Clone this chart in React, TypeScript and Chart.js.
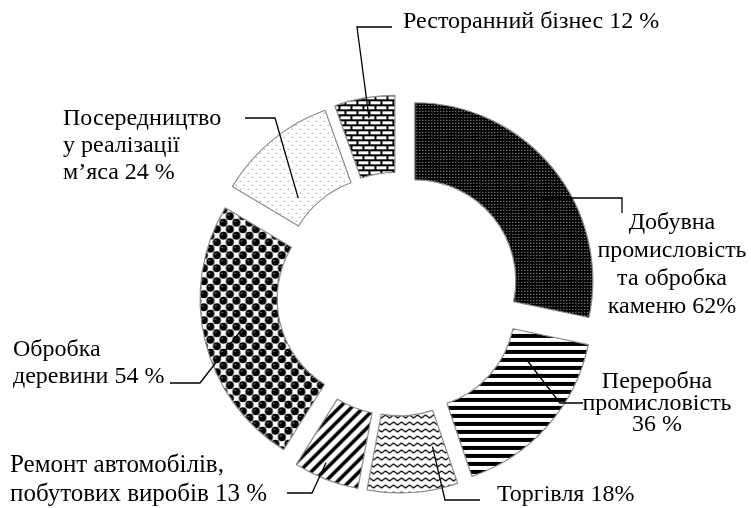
import React, { useEffect, useRef } from 'react';
import { Chart, registerables } from 'chart.js';

Chart.register(...registerables);

// ---- data ----
const categories = [
  'Добувна промисловість та обробка каменю',
  'Переробна промисловість',
  'Торгівля',
  'Ремонт автомобілів, побутових виробів',
  'Обробка деревини',
  'Посередництво у реалізації м’яса',
  'Ресторанний бізнес',
];
const values = [62, 36, 18, 13, 54, 24, 12];
const labelLines = [
  ['Добувна', 'промисловість', 'та обробка', 'каменю 62%'],
  ['Переробна', 'промисловість', '36 %'],
  ['Торгівля 18%'],
  ['Ремонт автомобілів,', 'побутових виробів 13 %'],
  ['Обробка', 'деревини 54 %'],
  ['Посередництво', 'у реалізації', 'м’яса 24 %'],
  ['Ресторанний бізнес 12 %'],
];

// ---- layout / style ----
const EXPLODE = 21;
const FONT_FAMILY = '"Liberation Serif", "Times New Roman", serif';
const labelLayout = [
  { x: 672, y: 223, align: 'center', lh: 28, size: 24 },
  { x: 657, y: 382, align: 'center', lh: 21.5, size: 24 },
  { x: 497, y: 495, align: 'left', lh: 28, size: 24 },
  { x: 10, y: 465, align: 'left', lh: 29, size: 25 },
  { x: 13, y: 350, align: 'left', lh: 27, size: 24 },
  { x: 63, y: 119, align: 'left', lh: 27, size: 24 },
  { x: 403, y: 22, align: 'left', lh: 28, size: 24 },
];
// label-side polyline points; last point is computed on the segment
const leaderPaths = [
  [[622, 213], [622, 198]],
  [[583, 403], [560, 403]],
  [[480, 500], [445, 500]],
  [[287, 493], [312, 493]],
  [[170, 383], [200, 383]],
  [[245, 118], [275, 118]],
  [[392, 27], [357, 27]],
];
// anchor within segment: [fraction along angle, fraction across ring]
const leaderAnchors = [
  [0.555, 0.64],
  [0.218, 0.3],
  [0.17, 0.45],
  [0.6, 0.8],
  [0.516, 0.485],
  [0.296, 0.22],
  [0.52, 0.73],
];

function makePatterns(ctx: CanvasRenderingContext2D) {
  const mk = (w: number, h: number, draw: (g: CanvasRenderingContext2D) => void) => {
    const c = document.createElement('canvas');
    c.width = w;
    c.height = h;
    const g = c.getContext('2d') as CanvasRenderingContext2D;
    draw(g);
    return ctx.createPattern(c, 'repeat') as CanvasPattern;
  };
  // 1: white dots on black
  const dotsOnBlack = mk(3, 3, (g) => {
    g.fillStyle = '#000';
    g.fillRect(0, 0, 3, 3);
    g.fillStyle = '#c4c4c4';
    g.fillRect(1, 1, 1, 1);
  });
  // 2: horizontal stripes
  const hStripes = mk(4, 8, (g) => {
    g.fillStyle = '#fff';
    g.fillRect(0, 0, 4, 8);
    g.fillStyle = '#000';
    g.fillRect(0, 0, 4, 4);
  });
  // 3: zigzag
  const zigzag = mk(8, 7, (g) => {
    g.fillStyle = '#fff';
    g.fillRect(0, 0, 8, 7);
    g.strokeStyle = '#000';
    g.lineWidth = 1.3;
    g.beginPath();
    g.moveTo(-4, 5);
    g.lineTo(0, 2);
    g.lineTo(4, 5);
    g.lineTo(8, 2);
    g.lineTo(12, 5);
    g.stroke();
  });
  // 4: wide diagonal stripes "/"
  const diag = mk(12, 12, (g) => {
    const img = g.createImageData(12, 12);
    for (let y = 0; y < 12; y++) {
      for (let x = 0; x < 12; x++) {
        const k = (x + y) % 12;
        const v = k < 5 ? 0 : 255;
        const i = (y * 12 + x) * 4;
        img.data[i] = v; img.data[i + 1] = v; img.data[i + 2] = v; img.data[i + 3] = 255;
      }
    }
    g.putImageData(img, 0, 0);
  });
  // 5: spheres
  const spheres = mk(13, 13, (g) => {
    g.fillStyle = '#fff';
    g.fillRect(0, 0, 13, 13);
    const ball = (cx: number, cy: number) => {
      g.fillStyle = '#000';
      g.beginPath();
      g.arc(cx, cy, 4.0, 0, Math.PI * 2);
      g.fill();
      g.fillStyle = '#9a9a9a';
      g.beginPath();
      g.arc(cx - 1.3, cy - 1.3, 0.8, 0, Math.PI * 2);
      g.fill();
    };
    for (const [cx, cy] of [[3.25, 3.25], [9.75, 9.75], [16.25, 3.25], [-3.25, 9.75], [3.25, 16.25], [9.75, -3.25], [16.25, 16.25], [-3.25, -3.25]]) ball(cx, cy);
  });
  // 6: sparse grey dots
  const sparse = mk(8, 8, (g) => {
    g.fillStyle = '#fff';
    g.fillRect(0, 0, 8, 8);
    g.fillStyle = '#7a7a7a';
    g.fillRect(1, 1, 1, 1);
    g.fillRect(5, 5, 1, 1);
  });
  // 7: bricks
  const bricks = mk(12, 10, (g) => {
    g.fillStyle = '#fff';
    g.fillRect(0, 0, 12, 10);
    g.fillStyle = '#000';
    g.fillRect(0, 0, 12, 2);
    g.fillRect(0, 5, 12, 2);
    g.fillRect(0, 0, 2, 5);
    g.fillRect(6, 5, 2, 5);
  });
  return [dotsOnBlack, hStripes, zigzag, diag, spheres, sparse, bricks];
}

const explodePlugin = {
  id: 'explodeAndLabels',
  beforeDatasetsDraw(chart: any) {
    const meta = chart.getDatasetMeta(0);
    meta.data.forEach((arc: any) => {
      if (arc.__exploded) return;
      const orig = arc.draw;
      arc.draw = function (ctx: CanvasRenderingContext2D, area: any) {
        const mid = (this.startAngle + this.endAngle) / 2;
        ctx.save();
        ctx.translate(Math.cos(mid) * EXPLODE, Math.sin(mid) * EXPLODE);
        orig.call(this, ctx, area);
        ctx.restore();
      };
      arc.__exploded = true;
    });
  },
  afterDatasetsDraw(chart: any) {
    const ctx: CanvasRenderingContext2D = chart.ctx;
    const meta = chart.getDatasetMeta(0);
    ctx.save();
    // leader lines
    ctx.strokeStyle = '#000';
    ctx.lineWidth = 1.3;
    meta.data.forEach((arc: any, i: number) => {
      const mid = (arc.startAngle + arc.endAngle) / 2;
      const [fa, fr] = leaderAnchors[i];
      const ang = arc.startAngle + fa * (arc.endAngle - arc.startAngle);
      const rad = arc.innerRadius + fr * (arc.outerRadius - arc.innerRadius);
      const ex = arc.x + Math.cos(mid) * EXPLODE + Math.cos(ang) * rad;
      const ey = arc.y + Math.sin(mid) * EXPLODE + Math.sin(ang) * rad;
      const pts = leaderPaths[i];
      ctx.beginPath();
      ctx.moveTo(pts[0][0], pts[0][1]);
      for (let k = 1; k < pts.length; k++) ctx.lineTo(pts[k][0], pts[k][1]);
      ctx.lineTo(ex, ey);
      ctx.stroke();
    });
    // labels
    ctx.fillStyle = '#000';
    ctx.textBaseline = 'middle';
    labelLines.forEach((lines, i) => {
      const L = labelLayout[i];
      ctx.font = `${L.size}px ${FONT_FAMILY}`;
      ctx.textAlign = L.align as CanvasTextAlign;
      lines.forEach((t, k) => ctx.fillText(t, L.x, L.y + k * L.lh));
    });
    ctx.restore();
  },
};

export default function App() {
  const ref = useRef<HTMLCanvasElement>(null);
  useEffect(() => {
    const canvas = ref.current!;
    const ctx = canvas.getContext('2d')!;
    const patterns = makePatterns(ctx);
    const chart = new Chart(canvas, {
      type: 'doughnut',
      data: {
        labels: categories,
        datasets: [
          {
            data: values,
            backgroundColor: patterns,
            borderColor: '#8c8c8c',
            borderWidth: 1.2,
          },
        ],
      },
      options: {
        responsive: false,
        animation: false,
        radius: 178,
        cutout: '56.7%',
        layout: { padding: { left: 46, right: 0, top: 80, bottom: 0 } },
        plugins: { legend: { display: false }, tooltip: { enabled: false } },
        events: [],
      } as any,
      plugins: [explodePlugin],
    });
    return () => chart.destroy();
  }, []);
  return (
    <div style={{ position: 'absolute', left: 0, top: 0, width: 751, height: 508, background: '#fff' }}>
      <canvas ref={ref} width={751} height={508} style={{ display: 'block' }} />
    </div>
  );
}
